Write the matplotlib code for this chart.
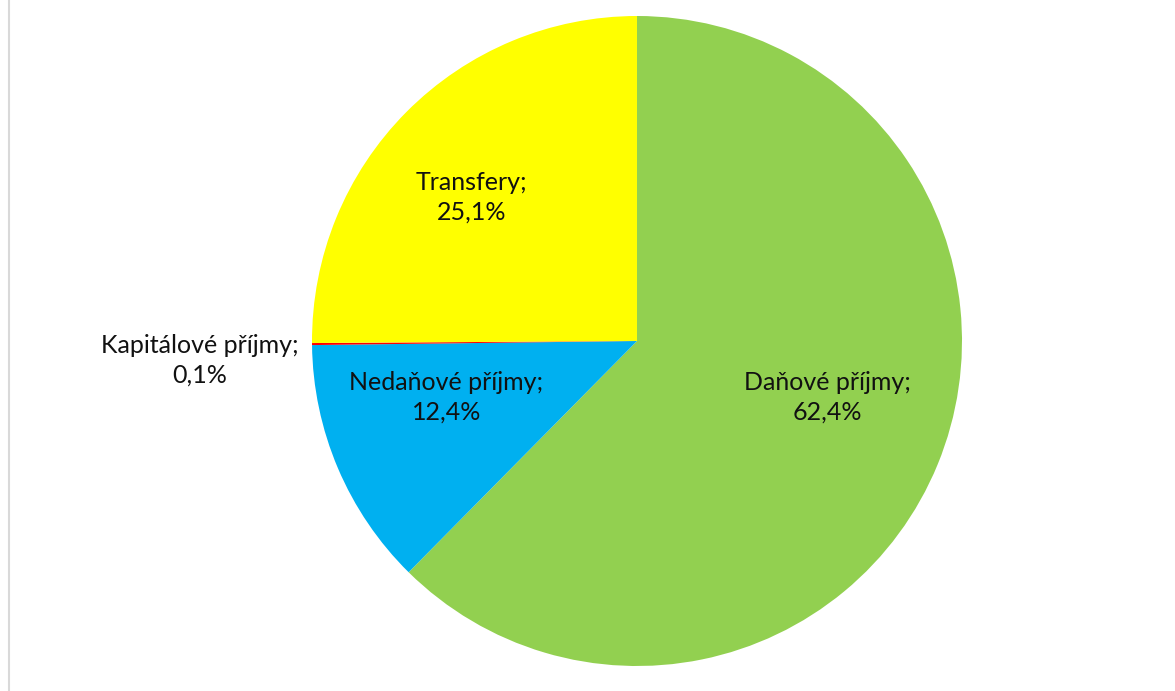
import matplotlib
matplotlib.use('Agg')
import matplotlib.pyplot as plt
from matplotlib.lines import Line2D

# Data
categories = ['Daňové příjmy', 'Nedaňové příjmy', 'Kapitálové příjmy', 'Transfery']
shares = [62.4, 12.4, 0.1, 25.1]
colors = ['#92D050', '#00B0F0', '#FF0000', '#FFFF00']

# label positions (in pie radius units, relative to centre)
label_pos = [(0.587, -0.172), (-0.587, -0.172), (-1.345, -0.060), (-0.508, 0.443)]

plt.rcParams['font.family'] = ['Lato', 'DejaVu Sans']

W, H = 1175, 691
fig = plt.figure(figsize=(W / 100, H / 100), dpi=100)
cx, cy, r = 637, 341, 325
ax = fig.add_axes([(cx - r) / W, 1 - (cy + r) / H, 2 * r / W, 2 * r / H])

ax.pie(shares, colors=colors, startangle=90, counterclock=False, radius=1,
       wedgeprops=dict(linewidth=0))
ax.set_xlim(-1, 1)
ax.set_ylim(-1, 1)
ax.set_aspect('equal')

for name, val, (x, y) in zip(categories, shares, label_pos):
    txt = f'{name};\n{val:.1f}%'.replace('.', ',')
    ax.text(x, y, txt, ha='center', va='center', fontsize=18, color='#111111',
            linespacing=1.35, clip_on=False)

# left border of the chart area
fig.add_artist(Line2D([9 / W, 9 / W], [0, 1], color='#D9D9D9', lw=1.5))

fig.savefig('out.png', dpi=100)
